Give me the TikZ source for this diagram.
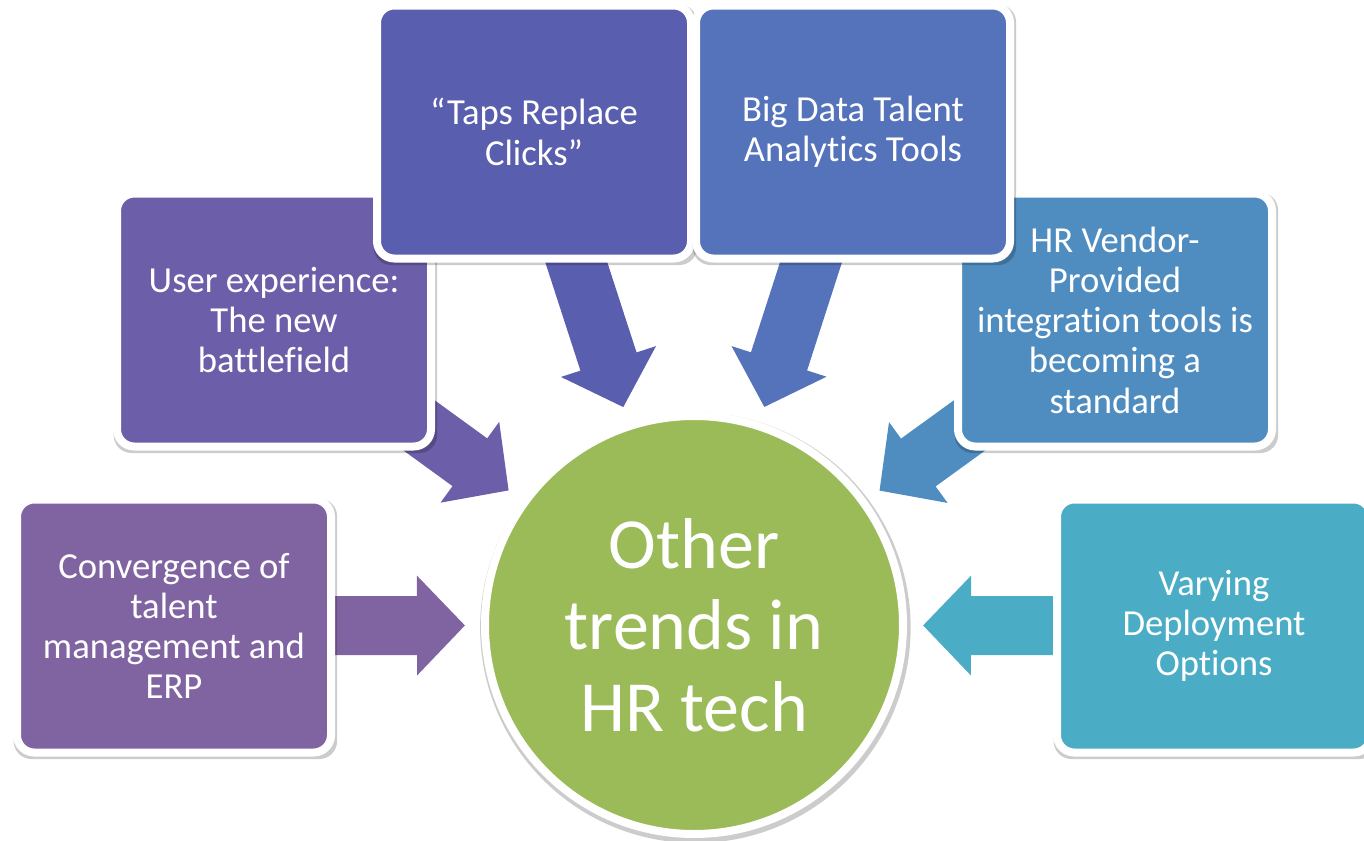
\documentclass[tikz,border=0pt]{standalone}
\usepackage{fontspec}
\setmainfont{Carlito}[Ligatures={TeX,NoCommon}]
\usetikzlibrary{arrows.meta, shadows, backgrounds}

\definecolor{cOne}{RGB}{128,100,162}
\definecolor{cTwo}{RGB}{108,94,168}
\definecolor{cThree}{RGB}{90,94,174}
\definecolor{cFour}{RGB}{84,115,186}
\definecolor{cFive}{RGB}{79,141,193}
\definecolor{cSix}{RGB}{75,172,198}
\definecolor{hubgreen}{RGB}{155,187,89}

\begin{document}
\begin{tikzpicture}[x=0.75pt, y=-0.75pt,
      softshadow/.style={general shadow={shadow scale=1.03, shadow xshift=1pt,
        shadow yshift=-2pt, fill=black, opacity=.2}},
      trend/.style={rectangle, rounded corners=13pt, draw=white, line width=6pt,
        minimum width=235.5pt, minimum height=189.75pt, inner sep=0pt,
        align=center, text=white, font=\fontsize{27.5}{30.2}\selectfont, softshadow},
      hub/.style={circle, fill=hubgreen, draw=white, line width=6pt,
        minimum size=313.5pt, inner sep=0pt, align=center, text=white,
        font=\fontsize{54}{61}\selectfont, softshadow},
      flow/.style={line width=44.25pt, shorten >=171.75pt,
        -{Triangle[width=72.75pt, length=36pt]}}]
      \useasboundingbox (0,0) rectangle (1364,840);
      % hub;
      \node[hub] (hub) at (694,625) {Other\\trends in\\HR tech};
      % side boxes;
      \node[trend, fill=cOne] (b1) at (174,626) {Convergence of\\talent\\management and\\ERP};
      \node[trend, fill=cSix] (b6) at (1214,626) {Varying\\Deployment\\Options};
      % middle boxes;
      \node[trend, fill=cTwo] (b2) at (274,320) {User experience:\\The new\\battlefield};
      \node[trend, fill=cFive] (b5) at (1115,320) {HR Vendor-\\Provided\\integration tools is\\becoming a\\standard};
      % top boxes;
      \node[trend, fill=cThree] (b3) at (534,132) {“Taps Replace\\Clicks”};
      \node[trend, fill=cFour] (b4) at (853,132) {Big Data Talent\\Analytics Tools};
      % arrows into the hub;
      \begin{pgfonlayer}{background}
        \draw[flow, cOne] (b1.center) -- (hub.center);
        \draw[flow, cTwo] (b2.center) -- (hub.center);
        \draw[flow, cThree] (b3.center) -- (hub.center);
        \draw[flow, cFour] (b4.center) -- (hub.center);
        \draw[flow, cFive] (b5.center) -- (hub.center);
        \draw[flow, cSix] (b6.center) -- (hub.center);
      \end{pgfonlayer}
  \end{tikzpicture}
\end{document}
